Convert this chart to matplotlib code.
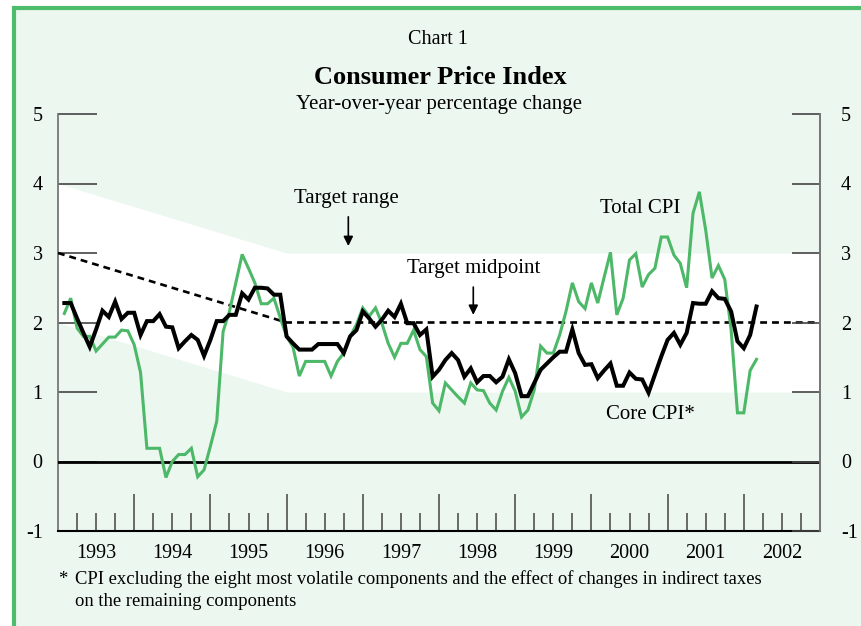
import numpy as np
import matplotlib
matplotlib.use("Agg")
import matplotlib.pyplot as plt
from matplotlib.patches import Rectangle

# ---------------- data ----------------
start_year = 1993
core_cpi = [2.28, 2.28, 2.06, 1.85, 1.65, 1.90, 2.17, 2.08, 2.30, 2.05, 2.14, 2.14,
            1.82, 2.02, 2.02, 2.12, 1.94, 1.93, 1.63, 1.73, 1.82, 1.75, 1.52, 1.75,
            2.02, 2.02, 2.11, 2.11, 2.42, 2.33, 2.50, 2.50, 2.49, 2.40, 2.40, 1.80,
            1.70, 1.61, 1.61, 1.61, 1.69, 1.69, 1.69, 1.69, 1.56, 1.80, 1.89, 2.16,
            2.06, 1.94, 2.04, 2.17, 2.08, 2.27, 1.99, 1.99, 1.82, 1.90, 1.22, 1.32,
            1.46, 1.56, 1.46, 1.22, 1.34, 1.14, 1.23, 1.23, 1.14, 1.22, 1.47, 1.27,
            0.94, 0.94, 1.13, 1.32, 1.41, 1.50, 1.58, 1.58, 1.90, 1.56, 1.39, 1.40,
            1.20, 1.31, 1.41, 1.09, 1.09, 1.28, 1.19, 1.18, 0.99, 1.25, 1.51, 1.75,
            1.85, 1.68, 1.85, 2.28, 2.27, 2.27, 2.45, 2.35, 2.34, 2.16, 1.73, 1.63,
            1.82, 2.23]
total_cpi = [2.13, 2.35, 1.92, 1.80, 1.80, 1.59, 1.69, 1.79, 1.79, 1.89, 1.88, 1.68,
             1.28, 0.19, 0.19, 0.19, -0.23, 0.00, 0.10, 0.10, 0.19, -0.22, -0.12, 0.22,
             0.58, 1.87, 2.16, 2.57, 2.98, 2.78, 2.57, 2.27, 2.27, 2.35, 2.07, 1.80,
             1.65, 1.23, 1.44, 1.44, 1.44, 1.44, 1.23, 1.44, 1.56, 1.80, 1.97, 2.21,
             2.09, 2.21, 1.99, 1.70, 1.50, 1.70, 1.70, 1.89, 1.61, 1.51, 0.84, 0.73,
             1.13, 1.03, 0.93, 0.84, 1.13, 1.03, 1.02, 0.84, 0.74, 1.01, 1.21, 1.01,
             0.64, 0.74, 1.03, 1.66, 1.56, 1.56, 1.82, 2.16, 2.57, 2.30, 2.20, 2.57,
             2.28, 2.65, 3.01, 2.11, 2.35, 2.90, 2.99, 2.51, 2.69, 2.78, 3.23, 3.23,
             2.97, 2.85, 2.50, 3.57, 3.88, 3.33, 2.64, 2.82, 2.62, 1.90, 0.70, 0.70,
             1.31, 1.47]
band_x = [1993.0, 1996.0, 2003.0]
band_upper = [4.0, 3.0, 3.0]
band_lower = [2.0, 1.0, 1.0]
midpoint = [3.0, 2.0, 2.0]
year_labels = ["1993", "1994", "1995", "1996", "1997", "1998", "1999", "2000", "2001", "2002"]
y_ticks = [-1, 0, 1, 2, 3, 4, 5]

months = np.arange(len(core_cpi))
x = start_year + (months + 1) / 12.0

# ---------------- style ----------------
GREEN = "#4cb868"
MINT = "#ecf7ef"
BORDER = "#4dbd6c"
plt.rcParams["font.family"] = ["Liberation Serif", "DejaVu Serif"]

W, H = 861, 626
fig = plt.figure(figsize=(W / 100, H / 100), dpi=100)
fig.patch.set_facecolor("white")
fig.patches.append(Rectangle((13.5 / W, -0.05), 1.2, 1.05 - 7.5 / H,
                             transform=fig.transFigure, facecolor=MINT,
                             edgecolor=BORDER, lw=3.0, zorder=-10))

L, R, T, B = 58, 820, 114, 531
ax = fig.add_axes([L / W, 1 - B / H, (R - L) / W, (B - T) / H])
ax.set_facecolor("none")
ax.set_xlim(1993, 2003)
ax.set_ylim(-1, 5)

# target band and midpoint
ax.fill_between(band_x, band_lower, band_upper, color="white", lw=0, zorder=1)
ax.plot(band_x, midpoint, color="black", lw=1.9, ls=(0, (2.6, 1.9)), zorder=3)
ax.axhline(0, color="black", lw=2.0, zorder=3)

ax.plot(x, total_cpi, color=GREEN, lw=2.2, zorder=4, solid_joinstyle="miter")
ax.plot(x, core_cpi, color="black", lw=2.9, zorder=5, solid_joinstyle="miter")

# spines
ax.spines["top"].set_visible(False)
for s in ["left", "right"]:
    ax.spines[s].set_color("#777777")
    ax.spines[s].set_linewidth(1.3)
ax.spines["bottom"].set_color("black")
ax.spines["bottom"].set_linewidth(1.5)

# y ticks
ax.set_yticks(y_ticks)
ax.set_yticklabels([str(v) for v in y_ticks])
ax.tick_params(axis="y", direction="in", length=28, width=1.2, color="#444444",
               labelsize=14.5, pad=11)
axr = ax.twinx()
axr.set_ylim(-1, 5)
axr.set_yticks(y_ticks)
axr.set_yticklabels([str(v) for v in y_ticks])
axr.tick_params(axis="y", direction="in", length=20, width=1.2, color="#444444",
                labelsize=14.5, pad=15)
for s in ["top", "left", "bottom"]:
    axr.spines[s].set_visible(False)
axr.spines["right"].set_color("#777777")
axr.spines["right"].set_linewidth(1.3)

# x ticks
years = np.arange(1994, 2003)
quarters = [yy + q for yy in range(1993, 2003) for q in (0.25, 0.5, 0.75)]
ax.set_xticks(years)
ax.set_xticklabels([])
ax.set_xticks(quarters, minor=True)
ax.tick_params(axis="x", which="major", direction="in", length=26.5, width=1.1, color="#444444")
ax.tick_params(axis="x", which="minor", direction="in", length=13, width=1.1, color="#444444")

sec = ax.secondary_xaxis("bottom")
sec.set_xticks([int(y) + 0.5 for y in year_labels], labels=year_labels)
sec.tick_params(length=0, pad=9, labelsize=14.5)
sec.spines["bottom"].set_visible(False)

# annotations
ax.text(1996.79, 3.78, "Target range", fontsize=15, ha="center", va="center", zorder=6)
ax.annotate("", xy=(1996.81, 3.06), xytext=(1996.81, 3.56),
            arrowprops=dict(arrowstyle="-|>", color="black", lw=1.2, mutation_scale=14))
ax.text(1998.46, 2.77, "Target midpoint", fontsize=15, ha="center", va="center", zorder=6)
ax.annotate("", xy=(1998.45, 2.07), xytext=(1998.45, 2.55),
            arrowprops=dict(arrowstyle="-|>", color="black", lw=1.2, mutation_scale=14))
ax.text(2000.64, 3.64, "Total CPI", fontsize=15, ha="center", va="center", zorder=6)
ax.text(2000.78, 0.67, "Core CPI*", fontsize=15, ha="center", va="center", zorder=6)

# titles
fig.text(438 / W, 1 - 40 / H, "Chart 1", fontsize=14.5, ha="center", va="center")
fig.text(440 / W, 1 - 78 / H, "Consumer Price Index", fontsize=19, fontweight="bold",
         ha="center", va="center")
fig.text(439 / W, 1 - 105 / H, "Year-over-year percentage change", fontsize=15,
         ha="center", va="center")

# footnote
fig.text(58 / W, 1 - 579 / H, "*", fontsize=13.4, ha="left", va="center")
fig.text(75 / W, 1 - 579 / H,
         "CPI excluding the eight most volatile components and the effect of changes in indirect taxes",
         fontsize=13.4, ha="left", va="center")
fig.text(75 / W, 1 - 601 / H, "on the remaining components", fontsize=13.4, ha="left", va="center")

fig.savefig("out.png", dpi=100, facecolor=fig.get_facecolor())
